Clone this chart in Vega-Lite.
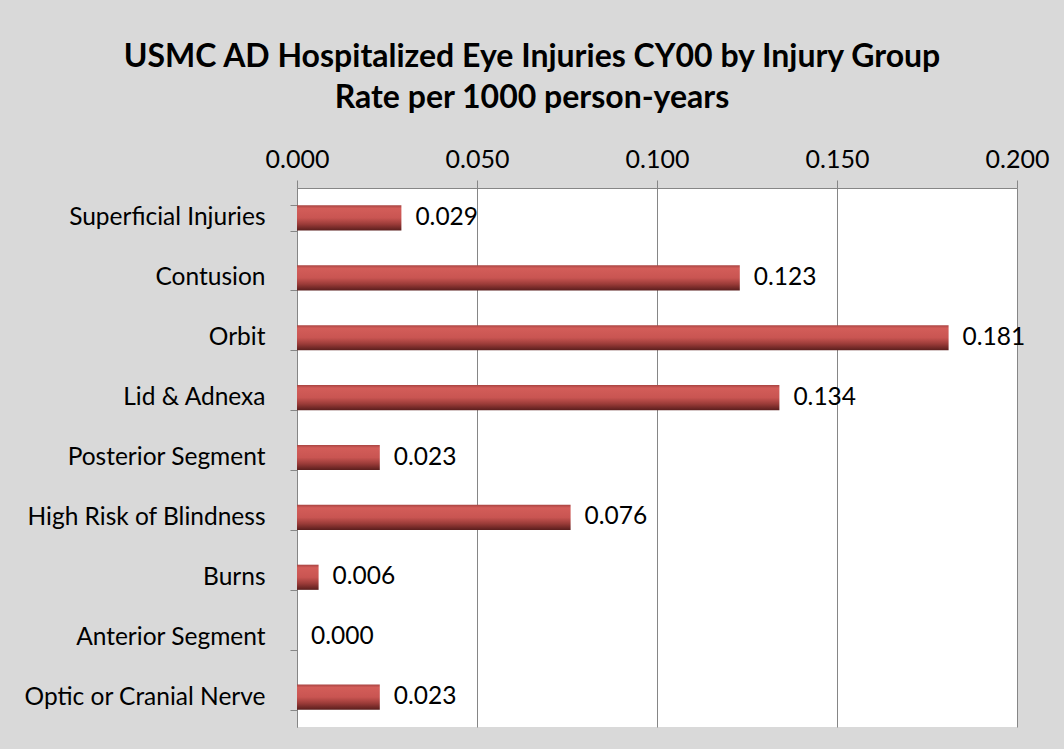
{
  "$schema": "https://vega.github.io/schema/vega-lite/v6.json",
  "width": 720,
  "height": 539,
  "autosize": {"type": "none"},
  "padding": {"left": 297, "top": 188, "right": 47, "bottom": 22},
  "background": "#d9d9d9",
  "title": {
    "text": ["USMC AD Hospitalized Eye Injuries CY00 by Injury Group", "Rate per 1000 person-years"],
    "anchor": "middle",
    "frame": "group",
    "dx": -125,
    "offset": 32,
    "font": "Lato",
    "fontSize": 32,
    "fontWeight": "bold",
    "color": "#000000",
    "lineHeight": 41
  },
  "data": {
    "values": [
      {"group": "Superficial Injuries", "rate": 0.029},
      {"group": "Contusion", "rate": 0.123},
      {"group": "Orbit", "rate": 0.181},
      {"group": "Lid & Adnexa", "rate": 0.134},
      {"group": "Posterior Segment", "rate": 0.023},
      {"group": "High Risk of Blindness", "rate": 0.076},
      {"group": "Burns", "rate": 0.006},
      {"group": "Anterior Segment", "rate": 0.0},
      {"group": "Optic or Cranial Nerve", "rate": 0.023}
    ]
  },
  "encoding": {
    "y": {
      "field": "group",
      "type": "nominal",
      "sort": null,
      "title": null,
      "scale": {"paddingInner": 0.58, "paddingOuter": 0.29},
      "axis": {
        "tickBand": "extent",
        "domainColor": "#868686",
        "tickColor": "#868686",
        "tickSize": 7,
        "labelPadding": 25,
        "labelLimit": 400,
        "labelFont": "Lato",
        "labelFontSize": 24.5,
        "labelColor": "#000000",
        "grid": false
      }
    },
    "x": {
      "field": "rate",
      "type": "quantitative",
      "title": null,
      "scale": {"domain": [0, 0.2], "nice": false},
      "axis": {
        "orient": "top",
        "values": [0, 0.05, 0.1, 0.15, 0.2],
        "format": ".3f",
        "labelFlush": false,
        "labelOverlap": false,
        "grid": true,
        "gridColor": "#868686",
        "gridWidth": 1,
        "domainColor": "#868686",
        "tickColor": "#868686",
        "tickSize": 8,
        "labelPadding": 8,
        "labelFont": "Lato",
        "labelFontSize": 25,
        "labelColor": "#000000"
      }
    }
  },
  "layer": [
    {
      "mark": {
        "type": "bar",
        "color": {
          "gradient": "linear",
          "x1": 0, "y1": 0, "x2": 0, "y2": 1,
          "stops": [
            {"offset": 0, "color": "#a84442"},
            {"offset": 0.12, "color": "#d35d59"},
            {"offset": 0.5, "color": "#c95552"},
            {"offset": 0.75, "color": "#9a3b38"},
            {"offset": 1, "color": "#5a1e1d"}
          ]
        }
      }
    },
    {
      "mark": {"type": "text", "align": "left", "dx": 14, "font": "Lato", "fontSize": 24.5, "color": "#000000"},
      "encoding": {"text": {"field": "rate", "type": "quantitative", "format": ".3f"}}
    }
  ],
  "config": {
    "view": {"fill": "#ffffff", "stroke": null}
  }
}
